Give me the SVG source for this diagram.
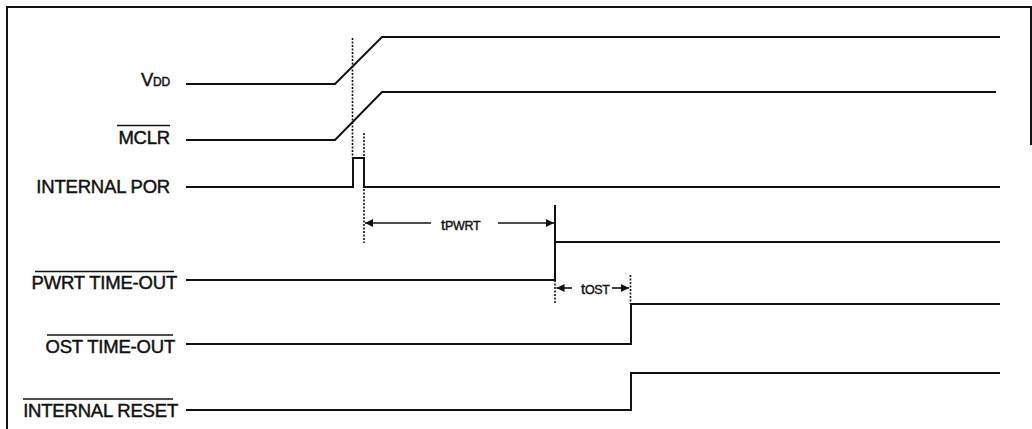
<svg xmlns="http://www.w3.org/2000/svg" width="1032" height="429" viewBox="0 0 1032 429">
<style>
.frame{fill:none;stroke:#111;stroke-width:2}
.wave{fill:none;stroke:#111;stroke-width:2;stroke-linejoin:miter}
.dot{fill:none;stroke:#111;stroke-width:1.6;stroke-dasharray:2 1.5}
.arr{fill:none;stroke:#111;stroke-width:1.6}
.lbl{font-family:"Liberation Sans",Arial,sans-serif;font-size:18.5px;fill:#111;stroke:#111;stroke-width:0.45;text-anchor:end;letter-spacing:-0.2px}
.ol{stroke:#111;stroke-width:1.6}
.tm{font-family:"Liberation Sans",Arial,sans-serif;font-size:15px;fill:#111;stroke:#111;stroke-width:0.4;letter-spacing:-0.3px}
</style>
<defs>
<marker id="ah" viewBox="0 0 10 10" refX="10" refY="5" markerWidth="10" markerHeight="8" markerUnits="userSpaceOnUse" orient="auto-start-reverse">
<path d="M0,0 L10,5 L0,10 z" fill="#111"/>
</marker>
</defs>
<rect width="1032" height="429" fill="#fff"/>
<path class="frame" d="M7,429 V7 H1031 V145"/>

<g id="vdd">
<text class="lbl" x="170" y="86">V<tspan font-size="12">DD</tspan></text>
<path class="wave" d="M186,84 H335 L382,37 H1000"/>
</g>
<g id="mclr">
<text class="lbl" x="170" y="144">MCLR</text>
<line class="ol" x1="117" y1="125.5" x2="170" y2="125.5"/>
<path class="wave" d="M186,140 H335 L382,92 H996"/>
</g>
<g id="internal-por">
<text class="lbl" x="170" y="193">INTERNAL POR</text>
<path class="wave" d="M186,187 H353 V158 H364 V187 H1000"/>
</g>
<g id="pwrt-timeout">
<text class="lbl" x="177" y="289">PWRT TIME-OUT</text>
<line class="ol" x1="35" y1="271.5" x2="174" y2="271.5"/>
<path class="wave" d="M186,280 H555 V205 M555,242 H1000"/>
</g>
<g id="ost-timeout">
<text class="lbl" x="175" y="353">OST TIME-OUT</text>
<line class="ol" x1="47" y1="335" x2="173" y2="335"/>
<path class="wave" d="M186,344 H631 V304 H1000"/>
</g>
<g id="internal-reset">
<text class="lbl" x="178" y="417">INTERNAL RESET</text>
<line class="ol" x1="23" y1="399" x2="173" y2="399"/>
<path class="wave" d="M186,410 H631 V373 H1000"/>
</g>

<g id="connectors">
<line class="dot" x1="352.5" y1="38" x2="352.5" y2="158"/>
<line class="dot" x1="364" y1="133" x2="364" y2="243"/>
<line class="dot" x1="555" y1="280" x2="555" y2="304"/>
<line class="dot" x1="630.5" y1="275" x2="630.5" y2="304"/>
<line class="arr" x1="431" y1="223" x2="365" y2="223" marker-end="url(#ah)"/>
<line class="arr" x1="498" y1="223" x2="554" y2="223" marker-end="url(#ah)"/>
<text class="tm" x="441" y="230">t<tspan font-size="12.5">PWRT</tspan></text>
<line class="arr" x1="572" y1="288" x2="556.5" y2="288" marker-end="url(#ah)"/>
<line class="arr" x1="612" y1="288" x2="629" y2="288" marker-end="url(#ah)"/>
<text class="tm" x="581" y="294">t<tspan font-size="12.5">OST</tspan></text>
</g>
</svg>
